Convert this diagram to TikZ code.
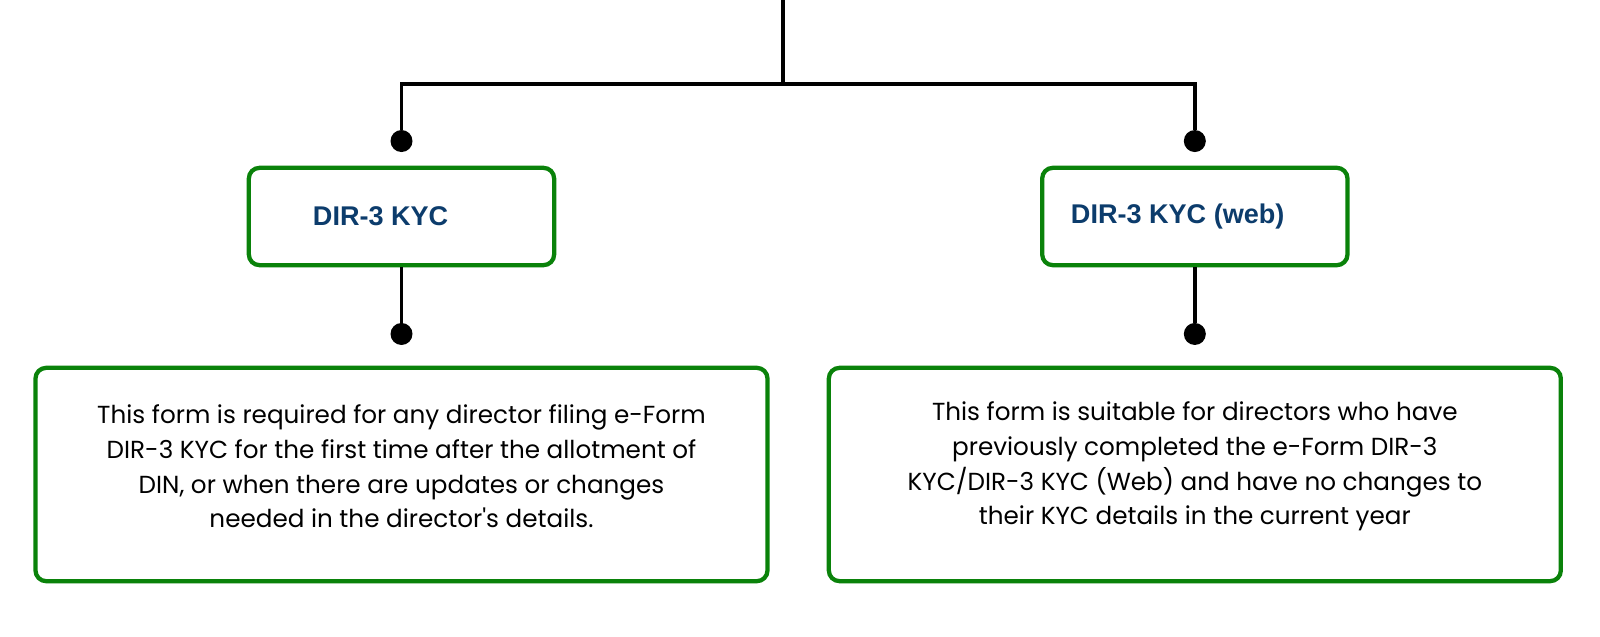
\documentclass[tikz,border=0pt]{standalone}
\usepackage{fontspec}
\setmainfont{Poppins}
\newfontfamily\titlefont{Liberation Sans}
\usetikzlibrary{positioning, shadows}
\definecolor{myGreen}{RGB}{10,130,10}
\definecolor{myNavy}{RGB}{12,60,108}
\tikzstyle{box}= [draw=myGreen, line width=3.2pt, rounded corners=8pt, fill=white,
    drop shadow={shadow xshift=0pt, shadow yshift=-1.5pt, opacity=0.10, fill=black}]
\tikzstyle{Form}= [box, minimum width=229pt, minimum height=73pt]
\tikzstyle{Info}= [box, minimum width=549pt, minimum height=160pt]
\tikzstyle{Title}= [inner sep=0pt, text=myNavy, font=\titlefont\bfseries\fontsize{20.3}{24}\selectfont]
\tikzstyle{Body}= [align=center, font=\fontsize{18.5}{26}\selectfont]
\tikzstyle{dot}= [circle, fill=black, inner sep=0pt, minimum size=16.5pt]
\tikzstyle{wire}= [line width=2.5pt]

\begin{document}
\begin{tikzpicture}[x=0.75pt, y=-0.75pt]
    \useasboundingbox (0,0) rectangle (1600,636);

    % form boxes
    \node [Form] (kyc) at (401.5,216.5) {};
    \node [Form, right of=kyc, node distance=595pt] (web) {};
    \node [Title, right=49.5pt of kyc.west] (kycTitle) {DIR-3 KYC};
    \node [Title, right=23pt of web.west] (webTitle) {DIR-3 KYC (web)};

    % description boxes
    \node [Info, below of=kyc, node distance=193.5pt] (kycInfo) {};
    \node [Info, below of=web, node distance=193.5pt] (webInfo) {};
    \node [Body, above of=kycInfo, node distance=6pt] (kycText)
    {This form is required for any director filing e-Form \\
    DIR-3 KYC for the first time after the allotment of \\
    DIN, or when there are updates or changes \\
    needed in the director\textquotesingle s details.};
    \node [Body, above of=webInfo, node distance=6pt] (webText)
    {This form is suitable for directors who have \\
    previously completed the e-Form DIR-3 \\
    KYC/DIR-3 KYC (Web) and have no changes to \\
    their KYC details in the current year};

    % dots
    \node [dot, above of=kyc, node distance=56.6pt] (kycDot) {};
    \node [dot, above of=web, node distance=56.6pt] (webDot) {};
    \node [dot, above of=kycInfo, node distance=105.4pt] (kycInfoDot) {};
    \node [dot, above of=webInfo, node distance=105.4pt] (webInfoDot) {};

    % tree lines
    \coordinate (top) at (783,0);
    \coordinate (split) at (783,84);
    \draw[wire] (top) -- (split);
    \draw[wire] (split) -| (kycDot);
    \draw[wire] (split) -| (webDot);
    \draw[wire] (kyc) -- (kycInfoDot);
    \draw[wire] (web) -- (webInfoDot);

\end{tikzpicture}
\end{document}
